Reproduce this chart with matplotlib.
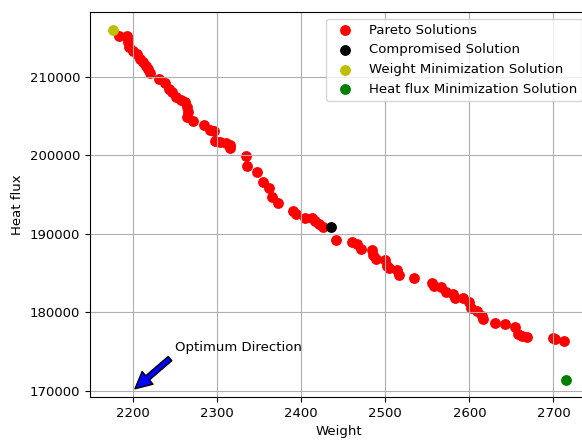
import matplotlib
matplotlib.use("Agg")
import matplotlib.pyplot as plt


#################################################
# Data
pareto_weight = [2184, 2193, 2194, 2194, 2195, 2200, 2205, 2208, 2212, 2216,
                 2218, 2220, 2231, 2238, 2243, 2247, 2251, 2257, 2262, 2264,
                 2265, 2264, 2271, 2284, 2292, 2297, 2298, 2304, 2311, 2315,
                 2315, 2335, 2336, 2347, 2355, 2362, 2365, 2373, 2390, 2394,
                 2405, 2413, 2417, 2421, 2426, 2441, 2461, 2467, 2471, 2484,
                 2485, 2489, 2500, 2502, 2504, 2514, 2516, 2534, 2556, 2558,
                 2566, 2572, 2581, 2583, 2592, 2600, 2602, 2609, 2615, 2616,
                 2630, 2642, 2654, 2658, 2663, 2668, 2700, 2702, 2712]
pareto_flux = [215230, 215230, 214810, 214380, 213740, 213320, 212900, 212260,
               211830, 211400, 210980, 210420, 209700, 209150, 208430, 208000,
               207450, 207020, 206720, 206080, 205440, 204800, 204380, 203870,
               203200, 203020, 201830, 201700, 201540, 201280, 200850, 199830,
               198550, 197870, 196600, 195790, 194680, 193880, 192900, 192470,
               192040, 192040, 191620, 191200, 190850, 189150, 188970, 188720,
               188000, 187880, 187280, 186730, 186600, 185870, 185660, 185320,
               184720, 184300, 183740, 183320, 183190, 182590, 182250, 181820,
               181740, 181310, 180550, 180130, 179490, 179070, 178640, 178430,
               178090, 177150, 176940, 176810, 176720, 176510, 176300]

compromise = (2435, 190850)
weight_min = (2176, 216000)
flux_min = (2715, 171410)

arrow_tip = (2200, 170000)
arrow_text = (2250, 175000)

#################################################
# Plot
plt.rcParams["font.size"] = 9.5

fig = plt.figure(figsize=(5.82, 4.40), dpi=100)
ax = fig.add_axes([0.1546, 0.0977, 0.857, 0.875])

ax.scatter(pareto_weight, pareto_flux, c="r", s=46, label="Pareto Solutions")
ax.scatter([compromise[0]], [compromise[1]], c="k", s=46,
           label="Compromised Solution")
ax.scatter([weight_min[0]], [weight_min[1]], c="y", s=46,
           label="Weight Minimization Solution")
ax.scatter([flux_min[0]], [flux_min[1]], c="g", s=46,
           label="Heat flux Minimization Solution")

ax.annotate("Optimum Direction", xy=arrow_tip, xytext=arrow_text,
            arrowprops=dict(facecolor="blue", shrink=0.05))

ax.set_xlabel("Weight")
ax.set_ylabel("Heat flux")
ax.grid(True)
ax.legend(loc="upper right")

fig.savefig("out.png", dpi=100)
